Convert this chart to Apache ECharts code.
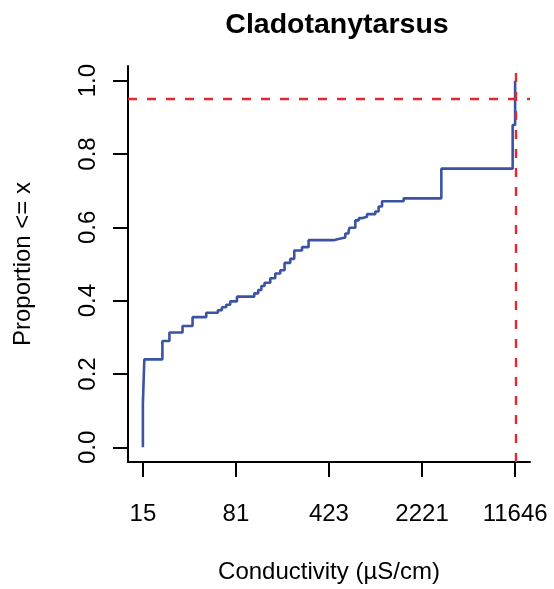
<!DOCTYPE html>
<html>
<head>
<meta charset="utf-8">
<script src="https://cdn.jsdelivr.net/npm/echarts@6/dist/echarts.min.js"></script>
<style>
html, body { margin: 0; padding: 0; background: #fff; }
#chart { width: 554px; height: 589px; }
</style>
</head>
<body>
<div id="chart"></div>
<script>
// Step points of the empirical CDF (conductivity in µS/cm, proportion <= x)
const conductivity = [15.4, 15.4, 15.8, 21.8, 24.7, 31.2, 37.3, 47.6, 58.6, 62.9,
  67.9, 72.9, 82.2, 111.9, 120.1, 127, 134.4, 148.8, 162.6, 177.8,
  191.9, 212.4, 228.1, 261.8, 294.3, 460, 502, 566, 600, 611,
  677, 720, 762, 833, 966, 1025, 1089, 1600, 3131, 11150, 11646];
const proportion = [0, 0.12, 0.24, 0.29, 0.313, 0.331, 0.355, 0.367, 0.374, 0.382,
  0.389, 0.398, 0.411, 0.42, 0.429, 0.44, 0.449, 0.461, 0.474, 0.483,
  0.503, 0.514, 0.537, 0.546, 0.565, 0.568, 0.572, 0.583, 0.589, 0.599,
  0.619, 0.625, 0.629, 0.636, 0.643, 0.657, 0.671, 0.679, 0.760, 0.879, 1.0];

// x tick positions (µS/cm) and their printed labels
const xTickValues = [15.4, 80.7, 423, 2221, 11646];
const xTickLabels = ['15', '81', '423', '2221', '11646'];
const yTickValues = [0, 0.2, 0.4, 0.6, 0.8, 1.0];

// reference lines
const cutoffProportion = 0.95;
const cutoffConductivity = 11646;

const titleText = 'Cladotanytarsus';
const xTitle = 'Conductivity (\u00b5S/cm)';
const yTitle = 'Proportion <= x';

const lg = v => Math.log10(v);
const xLogMin = lg(15.4), xLogMax = lg(11646);
const xPad = (xLogMax - xLogMin) * 0.04;

const FONT = '"Liberation Sans", Arial, Helvetica, sans-serif';

const chart = echarts.init(document.getElementById('chart'), null, { renderer: 'canvas' });

const tickLogs = xTickValues.map(lg);

chart.setOption({
  animation: false,
  backgroundColor: '#ffffff',
  textStyle: { fontFamily: FONT, color: '#000' },
  title: {
    text: titleText,
    left: 332,
    textAlign: 'center',
    top: 6,
    textStyle: { fontFamily: FONT, fontWeight: 'bold', fontSize: 28.5, color: '#000' }
  },
  grid: { left: 128, right: 24, top: 66, bottom: 121, containLabel: false },
  xAxis: {
    type: 'value',
    min: xLogMin - xPad,
    max: xLogMax + xPad,
    name: xTitle,
    nameLocation: 'middle',
    nameGap: 98,
    nameTextStyle: { fontFamily: FONT, fontSize: 24, color: '#000' },
    splitLine: { show: false },
    axisLine: { show: true, onZero: false, lineStyle: { color: '#000', width: 2 } },
    axisTick: { show: true, length: 15, lineStyle: { color: '#000', width: 2 }, customValues: tickLogs },
    axisLabel: {
      show: true, margin: 40, fontFamily: FONT, fontSize: 24, color: '#000',
      customValues: tickLogs,
      formatter: function (v) {
        let best = 0, bd = Infinity;
        tickLogs.forEach((t, i) => { const d = Math.abs(t - v); if (d < bd) { bd = d; best = i; } });
        return xTickLabels[best];
      }
    }
  },
  yAxis: {
    type: 'value',
    min: -0.04,
    max: 1.04,
    name: yTitle,
    nameLocation: 'middle',
    nameGap: 93,
    nameTextStyle: { fontFamily: FONT, fontSize: 24, color: '#000' },
    splitLine: { show: false },
    axisLine: { show: true, onZero: false, lineStyle: { color: '#000', width: 2 } },
    axisTick: { show: true, length: 15, lineStyle: { color: '#000', width: 2 }, customValues: yTickValues },
    axisLabel: {
      show: true, rotate: 90, margin: 28, fontFamily: FONT, fontSize: 24, color: '#000',
      customValues: yTickValues,
      formatter: v => v.toFixed(1)
    }
  },
  series: [{
    type: 'line',
    step: 'end',
    data: conductivity.map((c, i) => [lg(c), proportion[i]]),
    showSymbol: false,
    symbol: 'none',
    lineStyle: { color: '#3a53a4', width: 2.6 },
    z: 3,
    markLine: {
      silent: true,
      symbol: 'none',
      label: { show: false },
      lineStyle: { color: '#e8262d', width: 2.4, type: [9, 10] },
      data: [
        { yAxis: cutoffProportion },
        { xAxis: lg(cutoffConductivity) }
      ]
    }
  }]
});
</script>
</body>
</html>
